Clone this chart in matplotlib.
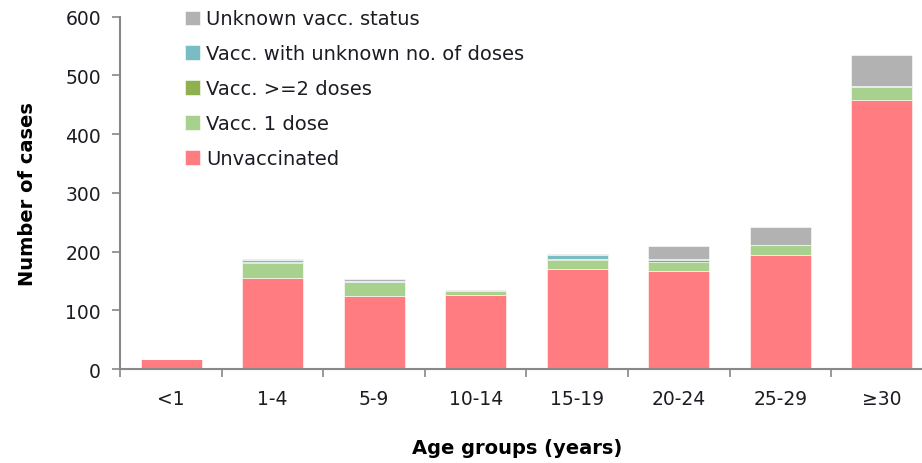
import matplotlib.pyplot as plt
import numpy as np

# age groups and stacked case counts
age_groups = ["<1", "1-4", "5-9", "10-14", "15-19", "20-24", "25-29", "≥30"]
unvaccinated = [17, 155, 125, 127, 170, 167, 194, 458]
vacc_1_dose = [1, 25, 23, 7, 16, 16, 18, 22]
vacc_2_doses = [0, 2, 1, 0, 2, 3, 0, 1]
vacc_unknown_doses = [0, 4, 2, 0, 7, 1, 0, 1]
unknown_status = [0, 1, 2, 1, 1, 22, 30, 53]

series = [
    ("Unvaccinated", unvaccinated, "#FF7C80"),
    ("Vacc. 1 dose", vacc_1_dose, "#A9D18E"),
    ("Vacc. >=2 doses", vacc_2_doses, "#8FB04F"),
    ("Vacc. with unknown no. of doses", vacc_unknown_doses, "#79BCC4"),
    ("Unknown vacc. status", unknown_status, "#B2B2B2"),
]

text_col = "#1c1c24"

fig = plt.figure(figsize=(9.22, 4.64), dpi=100)
# the plot area runs slightly past the right edge of the picture, as in the original
ax = fig.add_axes([0.1305, 0.202, 0.881, 0.76])

x = np.arange(len(age_groups))
bottom = np.zeros(len(age_groups))
handles = []
for label, vals, color in series:
    b = ax.bar(x, vals, width=0.6, bottom=bottom, color=color, label=label,
               edgecolor="white", linewidth=0.4)
    bottom += np.array(vals)
    handles.append(b)

ax.set_xlim(-0.5, len(age_groups) - 0.5)
ax.set_ylim(0, 600)
ax.set_yticks(range(0, 601, 100))
ax.set_xticks(x)
ax.set_xticklabels(age_groups)
ax.set_xticks(np.arange(-0.5, len(age_groups), 1), minor=True)
ax.tick_params(axis="x", which="major", length=0, pad=14, labelsize=13.5,
               labelcolor=text_col)
ax.tick_params(axis="x", which="minor", length=6, color="#888888", width=1.2)
ax.tick_params(axis="y", length=6, color="#888888", width=1.2, labelsize=13.5,
               pad=8, labelcolor=text_col)

for s in ["top", "right"]:
    ax.spines[s].set_visible(False)
for s in ["left", "bottom"]:
    ax.spines[s].set_color("#888888")
    ax.spines[s].set_linewidth(1.5)

ax.set_ylabel("Number of cases", fontsize=14, fontweight="bold", labelpad=20)
ax.set_xlabel("Age groups (years)", fontsize=14, fontweight="bold", labelpad=22)
ax.xaxis.label.set_x(0.488)

leg = ax.legend(handles[::-1], [s[0] for s in series][::-1], loc="upper left",
                bbox_to_anchor=(0.058, 1.07), frameon=False, fontsize=14,
                handlelength=0.75, handleheight=0.75, handletextpad=0.35,
                labelspacing=0.82, labelcolor=text_col)

fig.savefig("out.png", dpi=100)
